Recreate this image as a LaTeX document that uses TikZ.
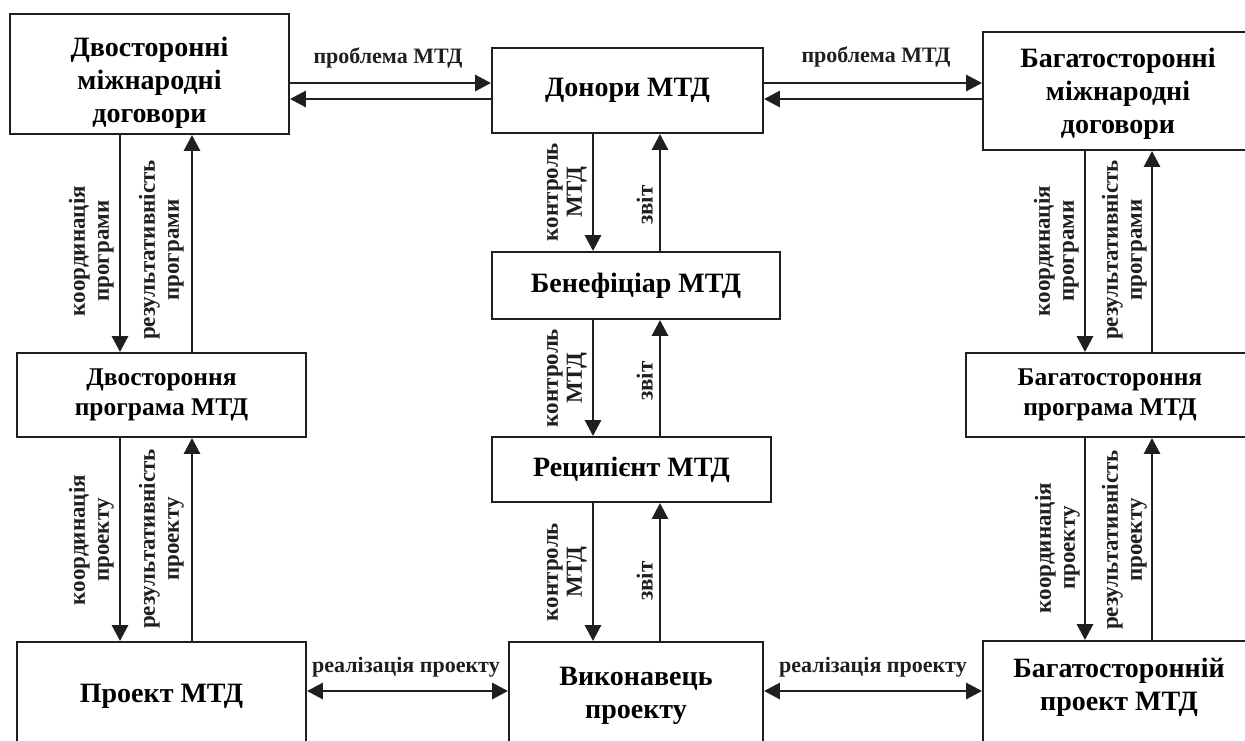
\documentclass[tikz,border=0pt]{standalone}
\usepackage{fontspec}
\setmainfont{Liberation Serif}
\usetikzlibrary{arrows.meta}
\tikzset{
  box/.style={draw=black!88, line width=1.9pt, align=center, inner sep=0pt, font=\bfseries\fontsize{28}{33}\selectfont},
  pbox/.style={box, font=\bfseries\fontsize{25.5}{30}\selectfont},
  arr/.style={draw=black!88, line width=2.9pt, -{Triangle[length=16pt,width=16pt]}},
  darr/.style={draw=black!88, line width=2.9pt, {Triangle[length=16pt,width=16pt]}-{Triangle[length=16pt,width=16pt]}},
  lbl/.style={text=black!88, align=center, inner sep=0pt, font=\bfseries\fontsize{22}{23.5}\selectfont},
  vlbl/.style={lbl, rotate=90, anchor=south, font=\bfseries\fontsize{23}{24}\selectfont},
}
\begin{document}
\begin{tikzpicture}[x=1pt,y=-1pt]
\useasboundingbox (0,0) rectangle (1245,740);
\clip (0,0) rectangle (1245,740);
% boxes
\node[box, minimum width=279pt, minimum height=120pt] (bi) at (149.5,74) {\rule{0pt}{37pt}Двосторонні\\міжнародні\\договори};
\node[box, minimum width=271pt, minimum height=85pt] (don) at (627.5,90.5) {Донори МТД};
\node[box, minimum width=270pt, minimum height=118pt] (mu) at (1118,91) {\rule{0pt}{24pt}Багатосторонні\\міжнародні\\договори};
\node[pbox, minimum width=289pt, minimum height=84pt] (bp) at (161.5,395) {Двостороння\\програма МТД};
\node[box, minimum width=288pt, minimum height=67pt] (ben) at (636,285.5) {Бенефіціар МТД};
\node[pbox, minimum width=288pt, minimum height=84pt] (mp) at (1110,395) {Багатостороння\\програма МТД};
\node[box, minimum width=279pt, minimum height=65pt] (rec) at (631.5,469.5) {Реципієнт МТД};
\node[box, minimum width=289pt, minimum height=108pt] (bpr) at (161.5,696) {Проект МТД};
\node[box, minimum width=254pt, minimum height=108pt] (ex) at (636,696) {Виконавець\\проекту};
\node[box, minimum width=272pt, minimum height=109pt] (mpr) at (1119,695.5) {Багатосторонній\\проект МТД\rule[-22pt]{0pt}{0pt}};
% helper coordinates
\coordinate (yA) at (0,83);
\coordinate (yB) at (0,99);
\coordinate (yR) at (0,691);
\coordinate (xL1) at (120,0);
\coordinate (xL2) at (192,0);
\coordinate (xC1) at (593,0);
\coordinate (xC2) at (660,0);
\coordinate (xR1) at (1085,0);
\coordinate (xR2) at (1152,0);
% top horizontal arrows
\draw[arr] (bi.east |- yA) -- (don.west |- yA);
\draw[arr] (don.west |- yB) -- (bi.east |- yB);
\draw[arr] (don.east |- yA) -- (mu.west |- yA);
\draw[arr] (mu.west |- yB) -- (don.east |- yB);
\node[lbl] (l1) at (388,58) {проблема МТД};
\node[lbl] (l2) at (876,57) {проблема МТД};
% bottom horizontal arrows
\draw[darr] (bpr.east |- yR) -- (ex.west |- yR);
\draw[darr] (ex.east |- yR) -- (mpr.west |- yR);
\node[lbl] (l3) at (406,667) {реалізація проекту};
\node[lbl] (l4) at (873,667) {реалізація проекту};
% left column
\draw[arr] (bi.south -| xL1) -- (bp.north -| xL1);
\draw[arr] (bp.north -| xL2) -- (bi.south -| xL2);
\draw[arr] (bp.south -| xL1) -- (bpr.north -| xL1);
\draw[arr] (bpr.north -| xL2) -- (bp.south -| xL2);
\node[vlbl] (l5) at (114,251) {координація\\програми};
\node[vlbl] (l6) at (184,250) {результативність\\програми};
\node[vlbl] (l7) at (114,540) {координація\\проекту};
\node[vlbl] (l8) at (184,539) {результативність\\проекту};
% centre column
\draw[arr] (don.south -| xC1) -- (ben.north -| xC1);
\draw[arr] (ben.north -| xC2) -- (don.south -| xC2);
\draw[arr] (ben.south -| xC1) -- (rec.north -| xC1);
\draw[arr] (rec.north -| xC2) -- (ben.south -| xC2);
\draw[arr] (rec.south -| xC1) -- (ex.north -| xC1);
\draw[arr] (ex.north -| xC2) -- (rec.south -| xC2);
\node[vlbl] (l9) at (587,192) {контроль\\МТД};
\node[vlbl] (l10) at (653,205) {звіт};
\node[vlbl] (l11) at (587,378) {контроль\\МТД};
\node[vlbl] (l12) at (653,381) {звіт};
\node[vlbl] (l13) at (587,572) {контроль\\МТД};
\node[vlbl] (l14) at (653,581) {звіт};
% right column
\draw[arr] (mu.south -| xR1) -- (mp.north -| xR1);
\draw[arr] (mp.north -| xR2) -- (mu.south -| xR2);
\draw[arr] (mp.south -| xR1) -- (mpr.north -| xR1);
\draw[arr] (mpr.north -| xR2) -- (mp.south -| xR2);
\node[vlbl] (l15) at (1079,251) {координація\\програми};
\node[vlbl] (l16) at (1147,250) {результативність\\програми};
\node[vlbl] (l17) at (1080,548) {координація\\проекту};
\node[vlbl] (l18) at (1147,540) {результативність\\проекту};
\end{tikzpicture}
\end{document}
